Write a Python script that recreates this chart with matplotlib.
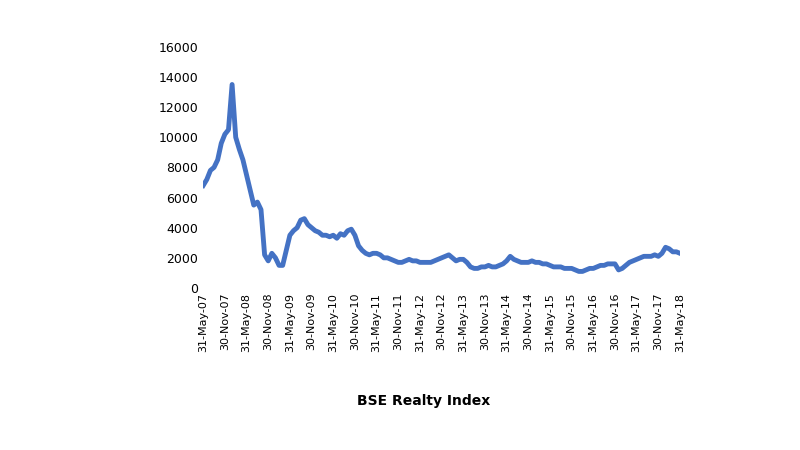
import matplotlib
matplotlib.use("Agg")
import matplotlib.pyplot as plt

# monthly closing estimates, May-07 .. May-18
values = [
    6800, 7200, 7800, 8000, 8500, 9600, 10200, 10500, 13500, 10000, 9200, 8500,  # May07-Apr08
    7500, 6500, 5500, 5700, 5200, 2200, 1800, 2300, 2000, 1500, 1500, 2500,      # May08-Apr09
    3500, 3800, 4000, 4500, 4600, 4200, 4000, 3800, 3700, 3500, 3500, 3400,      # May09-Apr10
    3500, 3300, 3600, 3500, 3800, 3900, 3500, 2800, 2500, 2300, 2200, 2300,      # May10-Apr11
    2300, 2200, 2000, 2000, 1900, 1800, 1700, 1700, 1800, 1900, 1800, 1800,      # May11-Apr12
    1700, 1700, 1700, 1700, 1800, 1900, 2000, 2100, 2200, 2000, 1800, 1900,      # May12-Apr13
    1900, 1700, 1400, 1300, 1300, 1400, 1400, 1500, 1400, 1400, 1500, 1600,      # May13-Apr14
    1800, 2100, 1900, 1800, 1700, 1700, 1700, 1800, 1700, 1700, 1600, 1600,      # May14-Apr15
    1500, 1400, 1400, 1400, 1300, 1300, 1300, 1200, 1100, 1100, 1200, 1300,      # May15-Apr16
    1300, 1400, 1500, 1500, 1600, 1600, 1600, 1200, 1300, 1500, 1700, 1800,      # May16-Apr17
    1900, 2000, 2100, 2100, 2100, 2200, 2100, 2300, 2700, 2600, 2400, 2400,      # May17-Apr18
    2300,                                                                         # May18
]
tick_labels = []
for yr in range(7, 19):
    tick_labels.append("31-May-%02d" % yr)
    if yr < 18:
        tick_labels.append("30-Nov-%02d" % yr)

fig = plt.figure(figsize=(8, 4.5), dpi=100)
ax = fig.add_axes([0.254, 0.36, 0.596, 0.536])
ax.plot(range(len(values)), values, color="#4472C4", linewidth=3.5)
ax.set_xlim(0, len(values) - 1)
ax.set_ylim(0, 16000)
ax.set_yticks(range(0, 16001, 2000))
ax.set_xticks(range(0, len(values), 6))
ax.set_xticklabels(tick_labels, rotation=90, fontsize=8)
ax.tick_params(axis="y", labelsize=9, length=0)
ax.tick_params(axis="x", length=0)
for s in ax.spines.values():
    s.set_visible(False)
fig.text(0.53, 0.1, "BSE Realty Index", ha="center", fontsize=10, fontweight="bold")
fig.savefig("out.png")
